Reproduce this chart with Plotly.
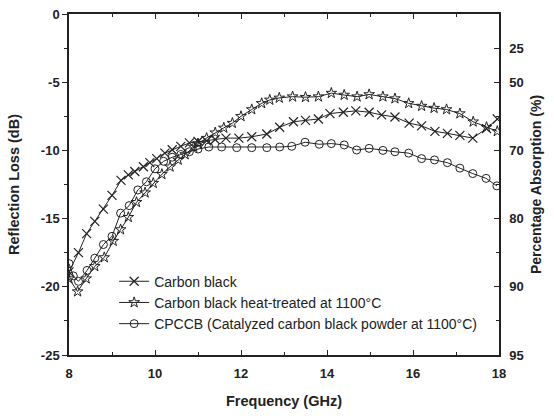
import plotly.graph_objects as go

# Carbon black (X markers)
cb_f = [8.0, 8.22, 8.41, 8.6, 8.8, 9.0, 9.21, 9.38, 9.53, 9.73, 9.88, 10.04, 10.23, 10.4, 10.6, 10.8,
        11.0, 11.2, 11.4, 11.65, 11.95, 12.25, 12.6, 12.9, 13.22, 13.5, 13.8, 14.07, 14.38, 14.67,
        14.98, 15.27, 15.58, 15.91, 16.2, 16.51, 16.8, 17.09, 17.39, 17.71, 17.96]
cb_rl = [-18.9, -17.5, -16.1, -15.2, -14.3, -13.3, -12.2, -11.8, -11.55, -11.2, -10.9, -10.6, -10.2, -9.95,
         -9.7, -9.45, -9.35, -9.3, -9.2, -9.1, -9.1, -9.0, -8.8, -8.3, -7.9, -7.8, -7.7, -7.3, -7.2, -7.1,
         -7.2, -7.4, -7.55, -8.0, -8.2, -8.6, -8.75, -8.9, -9.1, -8.4, -7.7]

# Carbon black heat-treated at 1100 C (star markers)
ht_f = [8.0, 8.2, 8.4, 8.6, 8.82, 9.03, 9.2, 9.38, 9.57, 9.77, 9.96, 10.16, 10.35, 10.54, 10.7, 10.9,
        11.0, 11.2, 11.4, 11.6, 11.8, 12.0, 12.25, 12.48, 12.67, 12.89, 13.2, 13.5, 13.8, 14.1, 14.4,
        14.7, 14.98, 15.3, 15.58, 15.9, 16.2, 16.49, 16.78, 17.09, 17.4, 17.71, 17.96]
ht_rl = [-19.4, -20.35, -19.4, -18.5, -17.85, -16.65, -15.8, -14.9, -13.8, -13.1, -12.4, -11.75, -11.2,
         -10.7, -10.3, -9.75, -9.5, -9.1, -8.7, -8.35, -8.0, -7.5, -7.0, -6.55, -6.3, -6.15, -6.06, -6.1,
         -6.06, -5.8, -5.94, -6.06, -5.9, -6.06, -6.2, -6.55, -6.75, -6.9, -7.0, -7.3, -7.9, -8.3, -8.6]

# CPCCB (circle markers)
cp_f = [8.0, 8.1, 8.22, 8.42, 8.6, 8.8, 9.0, 9.2, 9.4, 9.6, 9.8, 10.0, 10.2, 10.4, 10.6, 10.8, 11.0,
        11.25, 11.55, 11.9, 12.25, 12.6, 12.9, 13.18, 13.49, 13.82, 14.1, 14.4, 14.69, 14.98, 15.3,
        15.58, 15.9, 16.2, 16.5, 16.8, 17.09, 17.39, 17.7, 17.95]
cp_rl = [-18.3, -19.2, -19.6, -18.8, -17.9, -16.9, -16.3, -14.6, -14.05, -12.9, -12.3, -11.35, -10.8,
         -10.5, -10.3, -10.1, -9.9, -9.75, -9.75, -9.8, -9.8, -9.8, -9.75, -9.7, -9.4, -9.55, -9.5, -9.6,
         -9.97, -9.85, -10.0, -10.1, -10.2, -10.6, -10.7, -10.9, -11.3, -11.7, -12.05, -12.6]

names = ["Carbon black", "Carbon black heat-treated at 1100°C",
         "CPCCB (Catalyzed carbon black powder at 1100°C)"]

x_ticks = [8, 10, 12, 14, 16, 18]
x_labels = ["8", "10", "12", "14", "16", "18"]
y_ticks = [0, -5, -10, -15, -20, -25]
y_labels = ["0", "-5", "-10", "-15", "-20", "-25"]
abs_pos = [-2.5, -5, -10, -15, -20, -25]
abs_labels = ["25", "50", "70", "80", "90", "95"]

ink = "#222"
fig = go.Figure()
fig.add_trace(go.Scatter(x=cb_f, y=cb_rl, name=names[0], mode="lines+markers",
                         line=dict(color=ink, width=1),
                         marker=dict(symbol="x-thin-open", size=9, color=ink,
                                     line=dict(width=1.2, color=ink))))
fig.add_trace(go.Scatter(x=ht_f, y=ht_rl, name=names[1], mode="lines+markers",
                         line=dict(color=ink, width=1),
                         marker=dict(symbol="star-open", size=8, color=ink,
                                     line=dict(width=1, color=ink))))
fig.add_trace(go.Scatter(x=cp_f, y=cp_rl, name=names[2], mode="lines+markers",
                         line=dict(color=ink, width=1),
                         marker=dict(symbol="circle-open", size=8, color=ink,
                                     line=dict(width=1, color=ink))))
# invisible trace to activate right axis and top axis
fig.add_trace(go.Scatter(x=[8], y=[-25], xaxis="x2", yaxis="y2", mode="markers",
                         marker=dict(opacity=0), showlegend=False, hoverinfo="skip"))

font_fam = "Liberation Sans, Arial, sans-serif"
tickfont = dict(size=13, weight="bold", color=ink, family=font_fam)
fig.update_layout(
    width=554, height=416,
    margin=dict(l=69, r=55, t=14, b=61),
    paper_bgcolor="white", plot_bgcolor="white",
    font=dict(family=font_fam, color=ink, size=12),
    showlegend=True,
    legend=dict(x=0.105, y=0.262, xanchor="left", yanchor="top",
                bgcolor="rgba(0,0,0,0)", font=dict(size=14, color=ink),
                tracegroupgap=0, itemwidth=30),
    xaxis=dict(range=[8, 18], tickvals=x_ticks, ticktext=x_labels, ticks="inside", ticklen=5,
               tickwidth=1.2, tickcolor=ink, automargin=False,
               showline=True, linecolor=ink, linewidth=1.5, mirror=True,
               showgrid=False, zeroline=False, tickfont=tickfont, ticklabelstandoff=6,
               minor=dict(dtick=1, tick0=8, ticks="inside", ticklen=3, tickcolor=ink),
               title=dict(text="Frequency (GHz)", font=dict(size=14.5, weight="bold"), standoff=16)),
    xaxis2=dict(range=[8, 18], overlaying="x", side="top", tickvals=x_ticks, showticklabels=False,
                ticks="inside", ticklen=5, tickwidth=1.2, tickcolor=ink, automargin=False,
                showline=False, showgrid=False, zeroline=False,
                minor=dict(dtick=1, tick0=8, ticks="inside", ticklen=3, tickcolor=ink)),
    yaxis=dict(range=[-25, 0], tickvals=y_ticks, ticktext=y_labels, ticks="outside", ticklen=5,
               tickwidth=1.2, tickcolor=ink, automargin=False,
               showline=True, linecolor=ink, linewidth=1.5, mirror=False,
               showgrid=False, zeroline=False, tickfont=tickfont,
               minor=dict(dtick=2.5, tick0=0, ticks="outside", ticklen=3, tickcolor=ink),
               title=dict(text="Reflection Loss (dB)", font=dict(size=14.5, weight="bold"), standoff=18)),
    yaxis2=dict(range=[-25, 0], overlaying="y", side="right", tickvals=abs_pos, ticktext=abs_labels,
                ticks="inside", ticklen=5, tickwidth=1.2, tickcolor=ink, showline=True, linecolor=ink,
                linewidth=1.5, showgrid=False, zeroline=False, tickfont=tickfont, ticklabelstandoff=6,
                automargin=False,
                minor=dict(tickvals=[-7.5, -12.5, -17.5, -22.5], ticks="inside", ticklen=3,
                           tickcolor=ink),
                title=dict(text="Percentage Absorption (%)", font=dict(size=14, weight="bold"), standoff=8)),
)
fig.write_html("out.html")
